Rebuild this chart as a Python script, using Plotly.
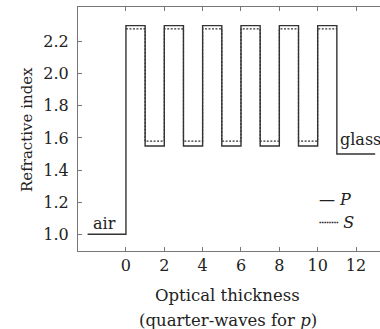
import plotly.graph_objects as go

# Data
p_x = [-2, 0, 1, 2, 3, 4, 5, 6, 7, 8, 9, 10, 11, 13]
p_index = [1.00, 2.30, 1.55, 2.30, 1.55, 2.30, 1.55, 2.30, 1.55, 2.30, 1.55, 2.30, 1.50, 1.50]
s_x = [0, 1, 2, 3, 4, 5, 6, 7, 8, 9, 10, 11]
s_index = [2.28, 1.58, 2.28, 1.58, 2.28, 1.58, 2.28, 1.58, 2.28, 1.58, 2.28, 2.28]
x_ticks = [0, 2, 4, 6, 8, 10, 12]
y_ticks = [1.0, 1.2, 1.4, 1.6, 1.8, 2.0, 2.2]

FONT = "DejaVu Serif"
LINE = "#333333"
AX = "#777777"
TXT = "#222222"

W, H = 380, 329
ML, MR, MT, MB = 78, 0, 7, 78
PW, PH = W - ML - MR, H - MT - MB


def px(x):
    return (x - ML) / PW


def py(y):
    return 1 - (y - MT) / PH


fig = go.Figure()
fig.add_trace(go.Scatter(x=p_x, y=p_index, mode="lines", line_shape="hv",
                         line=dict(color=LINE, width=1.4), name="P", showlegend=False))
fig.add_trace(go.Scatter(x=s_x, y=s_index, mode="lines", line_shape="hv",
                         line=dict(color=LINE, width=1.2, dash="2px,1.5px"), name="S", showlegend=False))

fig.update_layout(
    width=W, height=H,
    margin=dict(l=ML, r=MR, t=MT, b=MB),
    paper_bgcolor="white", plot_bgcolor="white",
    font=dict(family=FONT, size=16, color=TXT),
    xaxis=dict(range=[-2.5, 13.25], tickvals=x_ticks, ticks="inside", ticklen=4,
               tickcolor=AX, showline=True, linecolor=AX, linewidth=1.2, mirror="ticks",
               showgrid=False, zeroline=False, tickfont=dict(size=16, color=TXT)),
    yaxis=dict(range=[0.896, 2.416], tickvals=y_ticks, tickformat=".1f", ticks="inside",
               ticklen=4, tickcolor=AX, showline=True, linecolor=AX, linewidth=1.2,
               showgrid=False, zeroline=False, tickfont=dict(size=16, color=TXT),
               ticklabelstandoff=5),
    annotations=[
        dict(text="Refractive index", x=px(27), y=py(130), xref="paper", yref="paper",
             xanchor="center", yanchor="middle",
             textangle=-90, showarrow=False, font=dict(size=15)),
        dict(text="Optical thickness", x=px(227), y=py(295), xref="paper", yref="paper",
             showarrow=False, yanchor="middle", font=dict(size=16.5)),
        dict(text="(quarter-waves for <i>p</i>)", x=px(228), y=py(320), xref="paper",
             yref="paper", showarrow=False, yanchor="middle", font=dict(size=16.5)),
        dict(text="air", x=-1.1, y=1.07, xref="x", yref="y", showarrow=False),
        dict(text="glass", x=11.08, y=1.59, xref="x", yref="y", showarrow=False,
             xanchor="left"),
        dict(text="\u2014 <i>P</i>", x=px(317), y=py(199), xref="paper", yref="paper",
             showarrow=False, xanchor="left", yanchor="middle"),
        dict(text="\u2508\u2508 <i>S</i>", x=px(317), y=py(222), xref="paper", yref="paper",
             showarrow=False, xanchor="left", yanchor="middle"),
    ],
)

fig.write_html("out.html", config={"displayModeBar": False},
               post_script="document.body.style.margin='0';document.body.style.overflow='hidden';")
